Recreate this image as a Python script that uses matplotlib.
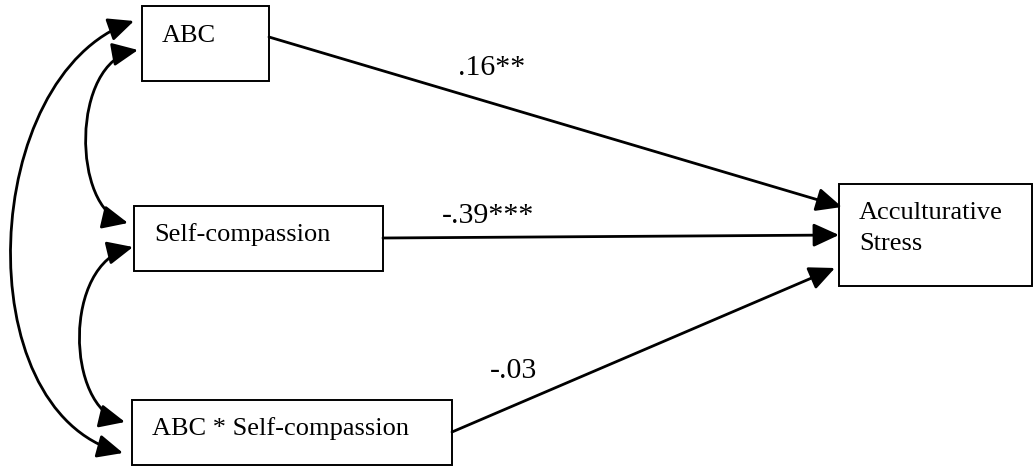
import matplotlib.pyplot as plt
from matplotlib.patches import Rectangle, FancyArrowPatch
from matplotlib.path import Path

plt.rcParams['font.family'] = ['Liberation Serif', 'DejaVu Serif']

# boxes: label lines, box (x0, y0, x1, y1) in pixel space, text start x and baselines
box_names = ['ABC', 'Self-compassion', 'ABC * Self-compassion', 'Acculturative\nStress']
box_rects = [(142, 6, 269, 81), (134, 206, 383, 271), (132, 400, 452, 465), (839, 184, 1032, 286)]
box_text_x = [162, 154, 152, 859]
box_text_y = [42, 241, 435, 219]

# path coefficients and where they sit
coefs = ['.16**', '-.39***', '-.03']
coef_xy = [(458, 75), (442, 223), (490, 378)]
path_start = [(269, 37), (383, 238), (452, 432)]
path_end = [(842, 207), (839, 235), (835, 268)]

# covariance curves (cubic bezier control points)
cov_curves = [
    [(134, 21), (-20, 75), (-35, 410), (123, 453)],
    [(138, 50), (70, 62), (72, 210), (128, 223)],
    [(133, 247), (62, 264), (66, 408), (125, 422)],
]

fig = plt.figure(figsize=(10.36, 4.68), dpi=100)
ax = fig.add_axes([0, 0, 1, 1])
ax.set_xlim(0, 1036)
ax.set_ylim(468, 0)
ax.axis('off')

for name, (x0, y0, x1, y1), tx, ty in zip(box_names, box_rects, box_text_x, box_text_y):
    ax.add_patch(Rectangle((x0, y0), x1 - x0, y1 - y0, fill=False, ec='black', lw=1.4, zorder=3))
    lines = name.split('\n')
    for i, ln in enumerate(lines):
        ax.text(tx, ty + i * 31, ln, fontsize=19, va='baseline', ha='left', zorder=4)

for s, e in zip(path_start, path_end):
    arr = FancyArrowPatch(s, e, arrowstyle='-|>,head_length=1.2,head_width=0.55',
                          mutation_scale=13, lw=2.0, color='black',
                          shrinkA=0, shrinkB=0, zorder=2)
    ax.add_patch(arr)

for c, (x, y) in zip(coefs, coef_xy):
    ax.text(x, y, c, fontsize=21.5, va='baseline', ha='left')

codes = [Path.MOVETO, Path.CURVE4, Path.CURVE4, Path.CURVE4]
for pts in cov_curves:
    arr = FancyArrowPatch(path=Path(pts, codes),
                          arrowstyle='<|-|>,head_length=1.2,head_width=0.55',
                          mutation_scale=13, lw=2.0, color='black', zorder=2)
    ax.add_patch(arr)

fig.savefig('out.png', dpi=100)
